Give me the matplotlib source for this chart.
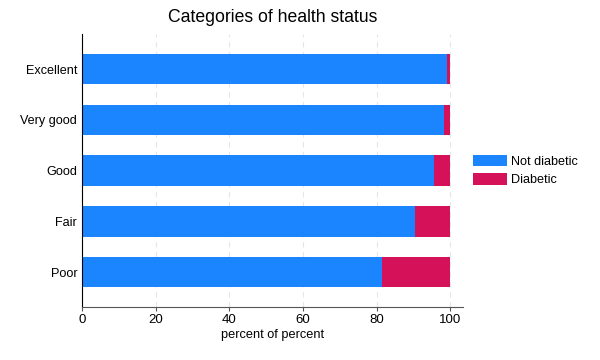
import matplotlib.pyplot as plt
import numpy as np

plt.rcParams['font.family'] = ['Liberation Sans', 'DejaVu Sans']

# データ
categories = ['Excellent', 'Very good', 'Good', 'Fair', 'Poor']
not_diabetic = [99.1, 98.3, 95.5, 90.5, 81.4]
diabetic = [100 - v for v in not_diabetic]

BLUE = '#1a85ff'
RED = '#d41159'

fig = plt.figure(figsize=(6, 3.6), dpi=100)
ax = fig.add_axes([0.1367, 0.147, 0.635, 0.758])

y = np.arange(len(categories))
ax.barh(y, not_diabetic, height=0.6, color=BLUE, label='Not diabetic')
ax.barh(y, diabetic, left=not_diabetic, height=0.6, color=RED, label='Diabetic')

ax.set_yticks(y)
ax.set_yticklabels(categories, fontsize=9.1)
ax.tick_params(axis='y', length=0, pad=3.5)
ax.set_ylim(len(categories) - 1 + 0.69, -0.69)
ax.set_xlim(0, 103.5)
ax.set_xticks([0, 20, 40, 60, 80, 100])
ax.tick_params(axis='x', labelsize=9.5, length=3, color='#555555', pad=2)
ax.set_xlabel('percent of percent', fontsize=9.2, labelpad=2)

# グリッド
ax.set_axisbelow(True)
ax.grid(axis='x', linestyle=(0, (5, 4)), color='#e6e6e6', linewidth=0.8)

ax.spines['top'].set_visible(False)
ax.spines['right'].set_visible(False)
ax.spines['left'].set_color('black')
ax.spines['bottom'].set_color('#555555')

ax.set_title('Categories of health status', fontsize=12.7, pad=9)

ax.legend(loc='center left', bbox_to_anchor=(1.012, 0.5), frameon=False,
          fontsize=9.1, handlelength=2.7, handleheight=1.0, handletextpad=0.3,
          labelspacing=0.45, borderaxespad=0)

fig.savefig('out.png', dpi=100)
